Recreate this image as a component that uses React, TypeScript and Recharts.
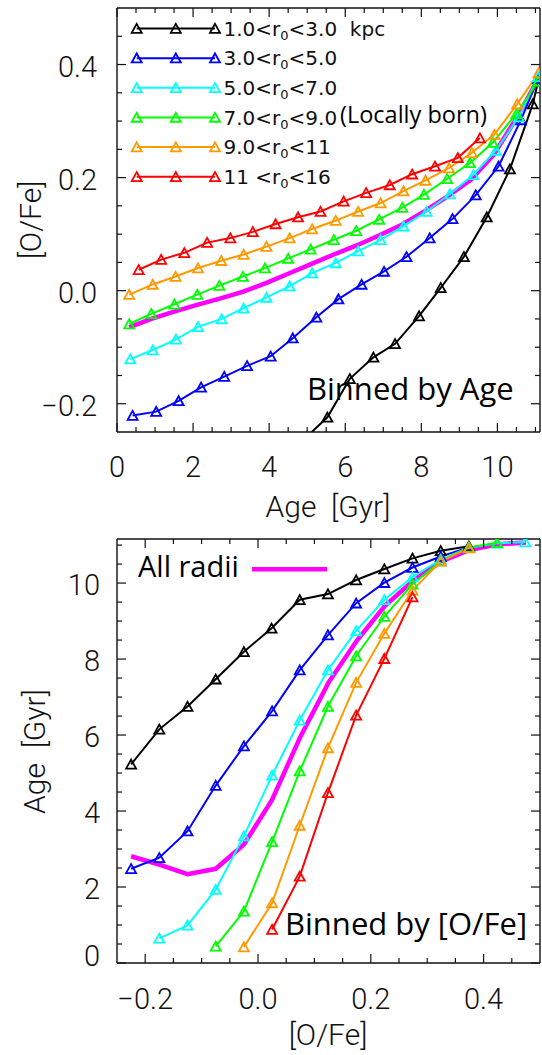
import React from 'react';
import { LineChart, Line, XAxis, YAxis, Legend, Customized } from 'recharts';

const TICK_FONT = "Roboto, 'Liberation Sans', Arial, sans-serif";
const TITLE_FONT = "Roboto, 'Liberation Sans', Arial, sans-serif";
const NOTE_FONT = "'Open Sans', 'Noto Sans', sans-serif";
const LEGEND_FONT = "'DejaVu Sans', sans-serif";
const THIN = 300;

// ---------- series meta ----------
const seriesColors = ['#000000', '#0000ff', '#00ffff', '#00ff00', '#ff9900', '#ff0000'];
const allRadiiColor = '#ff00ff';
const radiusLower = ['1.0', '3.0', '5.0', '7.0', '9.0', '11 '];
const radiusUpper = ['3.0  kpc', '5.0', '7.0', '9.0', '11', '16'];
const seriesNames = radiusLower.map((lo, i) => `${lo}<r0<${radiusUpper[i]}`);
const allRadiiName = 'All radii';

// ---------- top panel: binned by age  [age (Gyr), [O/Fe]] ----------
const ageBin_r1_3 = [[4.93, -0.262], [5.53, -0.224], [6.12, -0.156], [6.74, -0.118], [7.31, -0.094], [7.94, -0.045], [8.51, 0.005], [9.12, 0.060], [9.72, 0.130], [10.33, 0.215], [10.93, 0.330], [11.07, 0.370]];
const ageBin_r3_5 = [[0.41, -0.221], [1.03, -0.214], [1.62, -0.195], [2.21, -0.171], [2.82, -0.152], [3.42, -0.133], [4.04, -0.116], [4.62, -0.084], [5.24, -0.047], [5.82, -0.015], [6.43, 0.011], [7.02, 0.034], [7.61, 0.060], [8.22, 0.093], [8.82, 0.127], [9.43, 0.169], [10.03, 0.220], [10.62, 0.302], [11.07, 0.375]];
const ageBin_r5_7 = [[0.35, -0.121], [0.94, -0.105], [1.55, -0.086], [2.13, -0.064], [2.75, -0.050], [3.33, -0.031], [3.93, -0.012], [4.54, 0.008], [5.13, 0.031], [5.75, 0.049], [6.34, 0.070], [6.93, 0.090], [7.53, 0.114], [8.14, 0.140], [8.75, 0.171], [9.37, 0.205], [9.96, 0.248], [10.56, 0.307], [11.07, 0.378]];
const ageBin_r7_9 = [[0.32, -0.059], [0.90, -0.041], [1.51, -0.024], [2.11, -0.007], [2.69, 0.009], [3.31, 0.025], [3.89, 0.040], [4.50, 0.057], [5.09, 0.073], [5.70, 0.090], [6.29, 0.106], [6.89, 0.126], [7.50, 0.147], [8.07, 0.170], [8.68, 0.198], [9.28, 0.226], [9.88, 0.262], [10.50, 0.313], [11.07, 0.370]];
const ageBin_r9_11 = [[0.32, -0.007], [0.94, 0.011], [1.54, 0.025], [2.13, 0.040], [2.74, 0.053], [3.33, 0.064], [3.93, 0.078], [4.54, 0.093], [5.13, 0.109], [5.75, 0.124], [6.34, 0.140], [6.93, 0.155], [7.53, 0.176], [8.11, 0.195], [8.73, 0.217], [9.33, 0.244], [9.92, 0.276], [10.52, 0.330], [11.08, 0.385]];
const ageBin_r11_16 = [[0.57, 0.037], [1.16, 0.055], [1.77, 0.067], [2.37, 0.085], [2.98, 0.093], [3.57, 0.104], [4.17, 0.118], [4.76, 0.130], [5.35, 0.140], [5.96, 0.158], [6.55, 0.173], [7.17, 0.187], [7.76, 0.206], [8.36, 0.220], [8.96, 0.235], [9.54, 0.270]];
const ageBin_all = [[0.32, -0.065], [0.9, -0.050], [1.5, -0.037], [2.1, -0.025], [2.7, -0.014], [3.3, -0.002], [3.9, 0.013], [4.5, 0.030], [5.1, 0.047], [5.7, 0.064], [6.3, 0.080], [6.9, 0.098], [7.5, 0.117], [8.1, 0.141], [8.7, 0.167], [9.3, 0.196], [9.9, 0.240], [10.5, 0.305], [11.07, 0.374]];

// ---------- bottom panel: binned by [O/Fe]  [[O/Fe], age (Gyr)] ----------
const ofeBin_r1_3 = [[-0.225, 5.23], [-0.175, 6.15], [-0.125, 6.75], [-0.075, 7.47], [-0.025, 8.19], [0.024, 8.81], [0.074, 9.56], [0.124, 9.71], [0.174, 10.08], [0.224, 10.37], [0.274, 10.65], [0.324, 10.85], [0.374, 10.97]];
const ofeBin_r3_5 = [[-0.225, 2.48], [-0.175, 2.77], [-0.125, 3.47], [-0.075, 4.67], [-0.025, 5.71], [0.025, 6.63], [0.074, 7.71], [0.124, 8.63], [0.174, 9.47], [0.224, 10.01], [0.274, 10.41], [0.324, 10.70], [0.374, 10.94]];
const ofeBin_r5_7 = [[-0.175, 0.65], [-0.125, 0.99], [-0.075, 1.93], [-0.025, 3.34], [0.025, 4.94], [0.074, 6.39], [0.124, 7.71], [0.174, 8.74], [0.224, 9.56], [0.274, 10.16], [0.324, 10.62], [0.374, 10.93], [0.424, 11.05], [0.474, 11.08]];
const ofeBin_r7_9 = [[-0.075, 0.44], [-0.025, 1.36], [0.025, 3.19], [0.074, 5.05], [0.124, 6.75], [0.174, 8.08], [0.224, 9.12], [0.274, 9.97], [0.324, 10.58], [0.374, 10.94], [0.424, 11.06]];
const ofeBin_r9_11 = [[-0.025, 0.42], [0.025, 1.58], [0.074, 3.62], [0.124, 5.66], [0.174, 7.38], [0.224, 8.67], [0.274, 9.81], [0.324, 10.57], [0.374, 10.92]];
const ofeBin_r11_16 = [[0.025, 0.88], [0.074, 2.28], [0.124, 4.48], [0.174, 6.52], [0.224, 8.01], [0.274, 9.63]];
const ofeBin_all = [[-0.225, 2.81], [-0.175, 2.59], [-0.125, 2.34], [-0.075, 2.48], [-0.025, 3.12], [0.025, 4.30], [0.075, 5.95], [0.125, 7.38], [0.175, 8.48], [0.225, 9.40], [0.275, 10.06], [0.325, 10.57], [0.375, 10.87], [0.425, 11.02], [0.475, 11.07]];

// ---------- axes ----------
const topAgeDomain = [0, 11.12];
const topOFeDomain = [-0.25, 0.5];
const botOFeDomain = [-0.25, 0.5];
const botAgeDomain = [0, 11.16];
const topAgeMajorStep = 2;
const topOFeMajorStep = 0.2;
const botOFeMajorStep = 0.2;
const botAgeMajorStep = 2;

const range = (start: number, end: number, step: number) => {
  const n = Math.round((end - start) / step);
  return Array.from({ length: n + 1 }, (_, i) => +(start + i * step).toFixed(3));
};
const topAgeTicks = range(0, 11, 0.5);
const topOFeTicks = range(-0.2, 0.45, 0.05);
const botOFeTicks = range(-0.2, 0.45, 0.05);
const botAgeTicks = range(0, 11, 0.5);

const topSeries = [ageBin_r1_3, ageBin_r3_5, ageBin_r5_7, ageBin_r7_9, ageBin_r9_11, ageBin_r11_16];
const botSeries = [ofeBin_r1_3, ofeBin_r3_5, ofeBin_r5_7, ofeBin_r7_9, ofeBin_r9_11, ofeBin_r11_16];

const toXY = (pts: number[][]) => pts.map(([x, y]) => ({ x, y }));

const fmtInt = (v: number) => String(Math.round(v));
const fmtOne = (v: number) => (v < 0 ? '\u2212' : '') + Math.abs(v).toFixed(1);

const axisLineStyle = { stroke: '#111', strokeWidth: 1.4 };

type Side = 'bottom' | 'left' | 'top' | 'right';
const makeTick = (side: Side, step: number, fmt: ((v: number) => string) | null, opts: any = {}) => (props: any) => {
  const { x, y, payload, index } = props;
  const v = Number(payload.value);
  const major = Math.abs(v / step - Math.round(v / step)) < 1e-6;
  const len = major ? 9 : 5;
  let x2 = x;
  let y2 = y;
  if (side === 'bottom') y2 = y - len;
  if (side === 'top') y2 = y + len;
  if (side === 'left') x2 = x + len;
  if (side === 'right') x2 = x - len;
  let label = null;
  if (fmt && major) {
    if (side === 'bottom') {
      label = (
        <text x={x} y={y + (opts.dy ?? 45)} textAnchor="middle" fontFamily={TICK_FONT} fontWeight={THIN} fontSize={29} fill="#111">
          {fmt(v)}
        </text>
      );
    } else if (side === 'left') {
      const lift = opts.zeroLift && Math.abs(v) < 1e-9 ? opts.zeroLift : 0;
      label = (
        <text x={x - (opts.dx ?? 20)} y={y + 12 - lift} textAnchor="end" fontFamily={TICK_FONT} fontWeight={THIN} fontSize={29} fill="#111">
          {fmt(v)}
        </text>
      );
    }
  }
  return (
    <g key={`tk-${side}-${index}`}>
      <line x1={x} y1={y} x2={x2} y2={y2} stroke="#111" strokeWidth={1.2} />
      {label}
    </g>
  );
};

const triangleDot = (color: string) => (props: any) => {
  const { cx, cy, index } = props;
  if (cx == null || cy == null) return <g key={`e${index}`} />;
  return (
    <polygon
      key={`t${index}`}
      points={`${cx - 5},${cy + 4.3} ${cx + 5},${cy + 4.3} ${cx},${cy - 4.7}`}
      fill="none"
      stroke={color}
      strokeWidth={1.8}
    />
  );
};

const Tri = ({ x, y, color }: { x: number; y: number; color: string }) => (
  <polygon points={`${x - 5},${y + 4.3} ${x + 5},${y + 4.3} ${x},${y - 4.7}`} fill="none" stroke={color} strokeWidth={1.8} />
);

const TopLegend = (props: any) => {
  const payload = (props.payload || [])
    .filter((p: any) => seriesNames.includes(String(p.value)))
    .sort((a: any, b: any) => seriesNames.indexOf(String(a.value)) - seriesNames.indexOf(String(b.value)));
  return (
    <svg width={542} height={200} style={{ display: 'block' }}>
      {payload.map((p: any, i: number) => {
        const yc = 28.5 + i * 29.65;
        const [before, after] = String(p.value).split('r0');
        return (
          <g key={i}>
            <line x1={136.7} y1={yc} x2={215} y2={yc} stroke={p.color} strokeWidth={2} />
            <Tri x={136.7} y={yc} color={p.color} />
            <Tri x={175.8} y={yc} color={p.color} />
            <Tri x={215} y={yc} color={p.color} />
            <text x={223.5} y={yc + 7.3} fontFamily={LEGEND_FONT} fontSize={20} fill="#111" style={{ whiteSpace: 'pre' }}>
              {before}r<tspan dy={4} fontSize={13}>0</tspan>
              <tspan dy={-4}>{after}</tspan>
            </text>
          </g>
        );
      })}
    </svg>
  );
};

const BottomLegend = (props: any) => {
  const payload = (props.payload || []).filter((p: any) => p.value === allRadiiName);
  return (
    <svg width={542} height={80} style={{ display: 'block' }}>
      {payload.map((p: any, i: number) => (
        <g key={i}>
          <text x={138} y={46.7} fontFamily={NOTE_FONT} fontSize={29} fill="#000">
            {p.value}
          </text>
          <line x1={252} y1={39.3} x2={327} y2={39.3} stroke={p.color} strokeWidth={4.5} />
        </g>
      ))}
    </svg>
  );
};

const TopNotes = () => (
  <g>
    <text x={307} y={400} fontFamily={NOTE_FONT} fontSize={31} fill="#000">Binned by Age</text>
    <text x={340} y={123.3} fontFamily={NOTE_FONT} fontSize={23.5} fill="#000">(Locally born)</text>
    <text x={328} y={517} textAnchor="middle" fontFamily={TITLE_FONT} fontWeight={THIN} fontSize={30} fill="#111" style={{ whiteSpace: 'pre' }}>
      Age  [Gyr]
    </text>
    <text transform="translate(41,220) rotate(-90)" textAnchor="middle" fontFamily={TITLE_FONT} fontWeight={THIN} fontSize={30} fill="#111">
      [O/Fe]
    </text>
  </g>
);

const BottomNotes = () => (
  <g>
    <text x={285} y={405} fontFamily={NOTE_FONT} fontSize={31} fill="#000">Binned by [O/Fe]</text>
    <text x={328} y={514.7} textAnchor="middle" fontFamily={TITLE_FONT} fontWeight={THIN} fontSize={30} fill="#111">
      [O/Fe]
    </text>
    <text transform="translate(45,221.5) rotate(-90)" textAnchor="middle" fontFamily={TITLE_FONT} fontWeight={THIN} fontSize={30} fill="#111" style={{ whiteSpace: 'pre' }}>
      Age  [Gyr]
    </text>
  </g>
);

export default function App() {
  return (
    <div style={{ position: 'absolute', left: 0, top: 0, width: 542, height: 1055, background: '#fff' }}>
      <div style={{ position: 'absolute', left: 0, top: 0 }}>
        <LineChart width={542} height={530} margin={{ top: 7, right: 1, bottom: 0, left: 0 }}>
          <XAxis xAxisId="b" orientation="bottom" type="number" dataKey="x" domain={topAgeDomain} allowDataOverflow
            ticks={topAgeTicks} interval={0} tick={makeTick('bottom', topAgeMajorStep, fmtInt)} tickLine={false}
            tickSize={0} tickMargin={0} height={98} axisLine={axisLineStyle} />
          <XAxis xAxisId="t" orientation="top" type="number" dataKey="x" domain={topAgeDomain} allowDataOverflow
            ticks={topAgeTicks} interval={0} tick={makeTick('top', topAgeMajorStep, null)} tickLine={false}
            tickSize={0} tickMargin={0} height={1} axisLine={axisLineStyle} />
          <YAxis yAxisId="l" orientation="left" type="number" domain={topOFeDomain} allowDataOverflow
            ticks={topOFeTicks} interval={0} tick={makeTick('left', topOFeMajorStep, fmtOne, { dx: 20 })} tickLine={false}
            tickSize={0} tickMargin={0} width={117} axisLine={axisLineStyle} />
          <YAxis yAxisId="r" orientation="right" type="number" domain={topOFeDomain} allowDataOverflow
            ticks={topOFeTicks} interval={0} tick={makeTick('right', topOFeMajorStep, null)} tickLine={false}
            tickSize={0} tickMargin={0} width={1} axisLine={axisLineStyle} />
          <Line xAxisId="b" yAxisId="l" data={toXY(ageBin_all)} dataKey="y" name={allRadiiName} type="linear"
            stroke={allRadiiColor} strokeWidth={4.5} dot={false} legendType="none" isAnimationActive={false} />
          {topSeries.map((s, i) => (
            <Line key={`top${i}`} xAxisId="b" yAxisId="l" data={toXY(s)} dataKey="y" name={seriesNames[i]} type="linear"
              stroke={seriesColors[i]} strokeWidth={2} dot={triangleDot(seriesColors[i])} isAnimationActive={false} />
          ))}
          <Legend layout="vertical" align="center" verticalAlign="middle" content={TopLegend}
            wrapperStyle={{ left: 0, top: 0, width: 542, height: 200 }} />
          <Customized component={TopNotes} />
        </LineChart>
      </div>
      <div style={{ position: 'absolute', left: 0, top: 530 }}>
        <LineChart width={542} height={525} margin={{ top: 8, right: 1, bottom: 0, left: 0 }}>
          <XAxis xAxisId="b" orientation="bottom" type="number" dataKey="x" domain={botOFeDomain} allowDataOverflow
            ticks={botOFeTicks} interval={0} tick={makeTick('bottom', botOFeMajorStep, fmtOne, { dy: 45.5 })} tickLine={false}
            tickSize={0} tickMargin={0} height={92} axisLine={axisLineStyle} />
          <XAxis xAxisId="t" orientation="top" type="number" dataKey="x" domain={botOFeDomain} allowDataOverflow
            ticks={botOFeTicks} interval={0} tick={makeTick('top', botOFeMajorStep, null)} tickLine={false}
            tickSize={0} tickMargin={0} height={1} axisLine={axisLineStyle} />
          <YAxis yAxisId="l" orientation="left" type="number" domain={botAgeDomain} allowDataOverflow
            ticks={botAgeTicks} interval={0} tick={makeTick('left', botAgeMajorStep, fmtInt, { dx: 17, zeroLift: 9 })} tickLine={false}
            tickSize={0} tickMargin={0} width={117} axisLine={axisLineStyle} />
          <YAxis yAxisId="r" orientation="right" type="number" domain={botAgeDomain} allowDataOverflow
            ticks={botAgeTicks} interval={0} tick={makeTick('right', botAgeMajorStep, null)} tickLine={false}
            tickSize={0} tickMargin={0} width={1} axisLine={axisLineStyle} />
          <Line xAxisId="b" yAxisId="l" data={toXY(ofeBin_all)} dataKey="y" name={allRadiiName} type="linear"
            stroke={allRadiiColor} strokeWidth={4.5} dot={false} isAnimationActive={false} />
          {botSeries.map((s, i) => (
            <Line key={`bot${i}`} xAxisId="b" yAxisId="l" data={toXY(s)} dataKey="y" name={seriesNames[i]} type="linear"
              stroke={seriesColors[i]} strokeWidth={2} dot={triangleDot(seriesColors[i])} legendType="none" isAnimationActive={false} />
          ))}
          <Legend layout="vertical" align="center" verticalAlign="middle" content={BottomLegend}
            wrapperStyle={{ left: 0, top: 0, width: 542, height: 80 }} />
          <Customized component={BottomNotes} />
        </LineChart>
      </div>
    </div>
  );
}
